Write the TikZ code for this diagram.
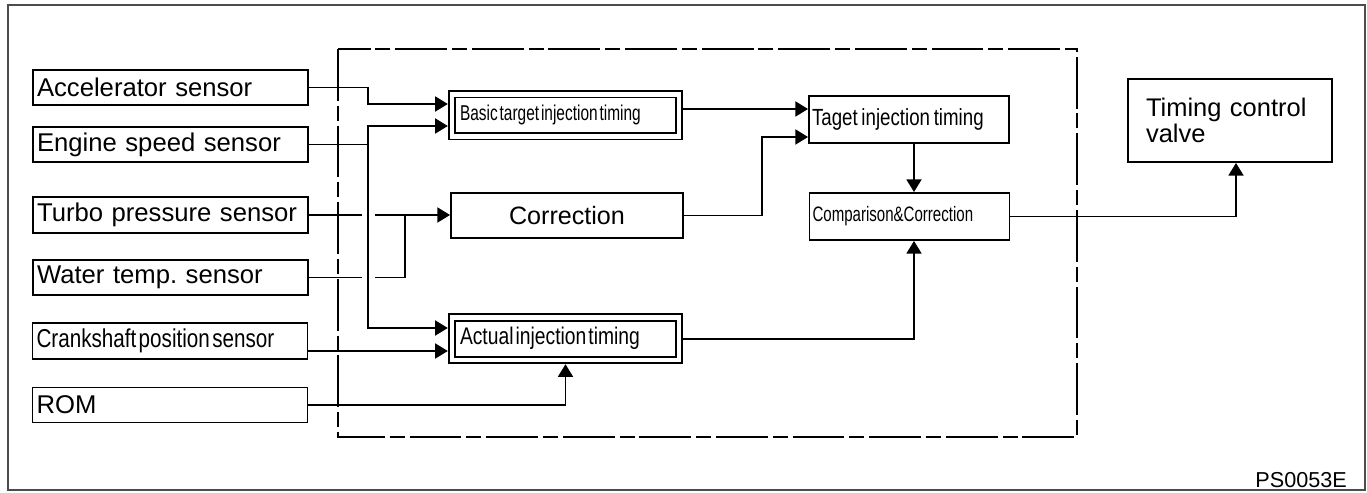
\documentclass[tikz,border=0pt]{standalone}
\usepackage{fontspec}
\setmainfont{Liberation Sans}
\newfontfamily\narrowfont[FakeStretch=0.8]{Liberation Sans}
\newfontfamily\narrowerfont[FakeStretch=0.72]{Liberation Sans}
\newcommand\narrowtext[2]{\narrowfont\fontsize{#1}{16}\selectfont\spaceskip=#2em\relax}
\newcommand\narrowertext[2]{\narrowerfont\fontsize{#1}{16}\selectfont\spaceskip=#2em\relax}
\usetikzlibrary{arrows.meta,positioning}

\begin{document}
\begin{tikzpicture}[
    x=0.02cm, y=-0.02cm,
    sensor/.style={rectangle, draw, line width=1.1pt, minimum width=5.5cm, minimum height=0.7cm, inner xsep=0.08cm, text width=5.34cm, align=left, font=\fontsize{14.6}{16}\selectfont},
    block/.style={rectangle, draw, line width=1.1pt, minimum width=4cm, minimum height=0.94cm, inner xsep=0.06cm, text width=3.88cm, align=left},
    dblock/.style={rectangle, draw, line width=1.1pt, double, double distance=2.6pt, outer sep=2.4pt, minimum width=4.54cm, minimum height=0.84cm, inner xsep=0.16cm, text width=4.22cm, align=left},
    arrow/.style={-{Triangle[length=7.2pt, width=8.5pt]}, line width=1.1pt},
    wire/.style={line width=1.1pt},
    bridge/.style={draw=white, line width=7.4pt},
    ecu/.style={line width=1.4pt, dash pattern=on 29.5pt off 2.8pt on 8.5pt off 2.8pt},
]
    \useasboundingbox (0,0) rectangle (1367,493);
    \draw[black!70, line width=0.9pt] (8,5) rectangle (1365,490);

    % ECU
    \draw[ecu] (338,49) rectangle (1077,437);

    % sensors
    \node[sensor] (acc) at (170.5,87.5) {Accelerator sensor};
    \node[sensor] (eng) at (170.5,144.5) {Engine speed sensor};
    \node[sensor] (turbo) at (170.5,215) {Turbo pressure sensor};
    \node[sensor] (water) at (170.5,277.5) {Water temp.\ sensor};
    \node[sensor] (crank) at (170,341) {\narrowtext{14.7}{0.09}Crankshaft position sensor};
    \node[sensor] (rom) at (170,405) {ROM};

    % processing
    \node[dblock] (basic) at (565.5,115.25) {\narrowertext{12.2}{0.09}Basic target injection timing};
    \node[block, minimum width=4.64cm, minimum height=0.9cm, text width=4.5cm, align=center, font=\fontsize{14.3}{16}\selectfont] (corr) at (567,215.5) {Correction};
    \node[dblock, minimum height=0.85cm] (actual) at (565.5,338.75) {\narrowtext{13.7}{0.09}Actual injection timing};
    \node[block] (taget) at (909,119.5) {\narrowtext{13.3}{0.16}Taget injection timing};
    \node[block] (comp) at (909.5,216.5) {\narrowertext{11.9}{0.09}Comparison\&Correction};
    \node[block, minimum width=4.08cm, minimum height=1.66cm, inner xsep=0.36cm, text width=3.36cm, font=\fontsize{14.5}{13}\selectfont] (valve) at (1230,120.5) {Timing control\\valve};

    \node[anchor=base east, font=\fontsize{12.3}{14}\selectfont] (code) at (1353,487) {PS0053E};

    % inputs
    \coordinate (bus) at (368,144.5);
    \coordinate (tw) at (405,215);
    \draw[arrow] (acc.east) -| (368,104) -- (basic.west |- 0,104);
    \draw[arrow] (turbo.east) -- (turbo.east -| corr.west);
    \draw[wire] (water.east) -| (tw);
    \draw[bridge] ([yshift=8pt]bus |- turbo.east) -- ([yshift=-8pt]bus |- water.east);
    \draw[wire] (eng.east) -- (bus);
    \draw[arrow] (bus) |- (basic.west |- 0,126);
    \draw[arrow] (bus) |- (actual.west |- 0,328);
    \draw[arrow] (crank.east |- 0,351) -- (actual.west |- 0,351);
    \draw[arrow] (rom.east) -| (actual.south);

    % outputs
    \draw[arrow] (basic.east |- 0,109) -- (taget.west |- 0,109);
    \draw[arrow] (corr.east) -| (762,137) -- (taget.west |- 0,137);
    \draw[arrow] (taget.south -| 914,0) -- (comp.north -| 914,0);
    \draw[arrow] (actual.east) -| (comp.south -| 914,0);
    \draw[arrow] (comp.east) -| (valve.south -| 1236,0);
\end{tikzpicture}
\end{document}
